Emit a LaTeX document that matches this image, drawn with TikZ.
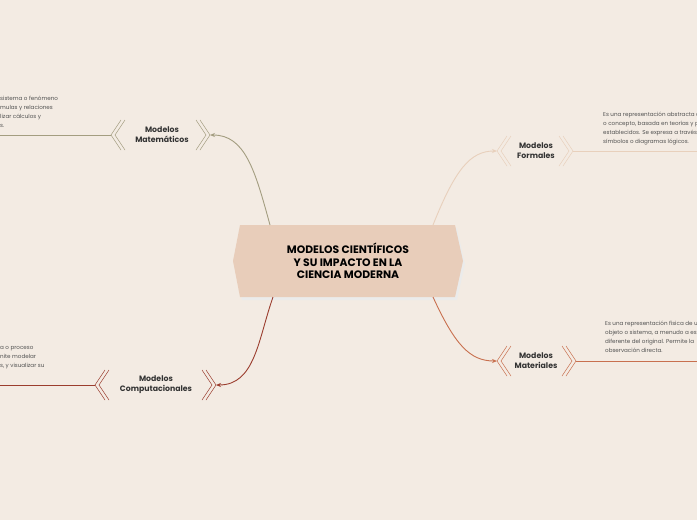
\documentclass[tikz,border=0pt]{standalone}
\usepackage{fontspec}
\setmainfont{Poppins}
\usetikzlibrary{arrows.meta}
\definecolor{bg}{HTML}{F3EBE3}
\definecolor{cmat}{HTML}{A39D80}
\definecolor{cfor}{HTML}{E8D0BC}
\definecolor{ccom}{HTML}{9B3D2E}
\definecolor{cmtl}{HTML}{C8704F}
\definecolor{chex}{HTML}{E8CDBA}
\definecolor{txt}{HTML}{333333}
\tikzset{
  topic/.style={font=\fontsize{7.8}{10}\selectfont\bfseries, text=txt, align=center},
  desc/.style={font=\fontsize{5.6}{9}\selectfont, text=txt!85, align=left, anchor=north west, inner sep=0pt},
  conn/.style={line width=0.9pt, -{Stealth[length=5pt,width=4pt]}},
}
\newcommand{\chev}[4]{%
  \draw[#3, line width=0.5pt] (#1+#4*5,#2-15) -- (#1-#4*5,#2) -- (#1+#4*5,#2+15);
  \draw[#3, line width=0.5pt] (#1+#4*9,#2-15) -- (#1-#4*1,#2) -- (#1+#4*9,#2+15);
}
\begin{document}
\begin{tikzpicture}[x=1pt,y=-1pt]
\fill[bg] (0,0) rectangle (697,520);
\useasboundingbox (0,0) rectangle (697,520);
\clip (0,0) rectangle (697,520);
\fill[black!8] (242,228) -- (457,228) -- (465,264) -- (457,300) -- (242,300) -- (235,264) -- cycle;
\fill[chex] (240,225) -- (455,225) -- (463,261) -- (455,297) -- (240,297) -- (233,261) -- cycle;
\node[font=\fontsize{10.8}{12.5}\selectfont\bfseries, align=center, text=black] (c) at (348,261) {MODELOS CIENTÍFICOS\\Y SU IMPACTO EN LA\\CIENCIA MODERNA};
\coordinate (c1) at (270,225);
\coordinate (c2) at (433,225);
\coordinate (c3) at (273,297);
\coordinate (c4) at (433,297);
\node[topic] (mat) at (162,135) {Modelos\\Matemáticos};
\node[topic] (for) at (536,151) {Modelos\\Formales};
\node[topic] (com) at (156,385) {Modelos\\Computacionales};
\node[topic] (mtl) at (536,361) {Modelos\\Materiales};
\coordinate (matR) at (210,135); \coordinate (matL) at (111,135);
\coordinate (forL) at (497,151); \coordinate (forR) at (573,151);
\coordinate (comR) at (216,385); \coordinate (comL) at (95,385);
\coordinate (mtlL) at (497,361); \coordinate (mtlR) at (576,361);
\chev{116}{135}{cmat}{1} \chev{205}{135}{cmat}{-1}
\chev{502}{151}{cfor}{1} \chev{568}{151}{cfor}{-1}
\chev{100}{385}{ccom}{1} \chev{211}{385}{ccom}{-1}
\chev{502}{361}{cmtl}{1} \chev{571}{361}{cmtl}{-1}
\draw[conn,cmat] (c1) .. controls (255,170) and (245,135) .. (matR);
\draw[conn,cfor] (c2) .. controls (455,170) and (470,151) .. (forL);
\draw[conn,ccom] (c3) .. controls (258,340) and (255,385) .. (comR);
\draw[conn,cmtl] (c4) .. controls (455,345) and (470,361) .. (mtlL);
\coordinate (e1) at (0,135); \coordinate (e2) at (697,151);
\coordinate (e3) at (0,385); \coordinate (e4) at (697,361);
\draw[cmat,line width=0.6pt] (matL) -- (e1);
\draw[cfor,line width=0.6pt] (forR) -- (e2);
\draw[ccom,line width=0.6pt] (comL) -- (e3);
\draw[cmtl,line width=0.6pt] (mtlR) -- (e4);
\node[desc] (dmat) at (0,96) {sistema o fenómeno\\mulas y relaciones\\ lizar cálculos y\\s.};
\node[desc] (dfor) at (603,112) {Es una representación abstracta de una idea\\o concepto, basada en teorías y principios\\establecidos. Se expresa a través de\\símbolos o diagramas lógicos.};
\node[desc] (dcom) at (0,346) {a o proceso\\nite modelar\\s, y visualizar su};
\node[desc] (dmtl) at (605,321) {Es una representación física de un\\objeto o sistema, a menudo a escala\\diferente del original. Permite la\\observación directa.};
\end{tikzpicture}
\end{document}
